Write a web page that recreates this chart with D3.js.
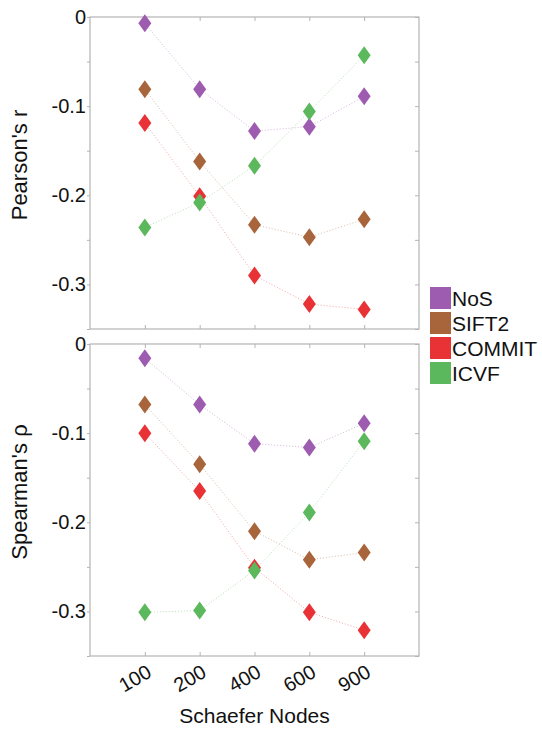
<!DOCTYPE html>
<html>
<head>
<meta charset="utf-8">
<script src="https://cdn.jsdelivr.net/npm/d3@7/dist/d3.min.js"></script>
<style>
  html, body { margin: 0; padding: 0; background: #fff; }
  svg { display: block; }
  svg text { font-family: "Liberation Sans", Arial, sans-serif; }
</style>
</head>
<body>
<svg id="chart" width="542" height="732"></svg>
<script>
// x categories (parcellation size)
const nodes = ['100', '200', '400', '600', '900'];
const methods = ['NoS', 'SIFT2', 'COMMIT', 'ICVF'];
const colors = ['#9e5cb0', '#a8653b', '#e83236', '#5cb85c'];

// Pearson's r, one array per method
const pearsonNoS = [-0.007, -0.081, -0.128, -0.123, -0.089];
const pearsonSIFT2 = [-0.081, -0.162, -0.233, -0.247, -0.227];
const pearsonCOMMIT = [-0.119, -0.201, -0.290, -0.322, -0.328];
const pearsonICVF = [-0.236, -0.208, -0.167, -0.106, -0.043];

// Spearman's rho
const spearmanNoS = [-0.016, -0.068, -0.112, -0.116, -0.089];
const spearmanSIFT2 = [-0.068, -0.135, -0.210, -0.242, -0.234];
const spearmanCOMMIT = [-0.100, -0.165, -0.251, -0.301, -0.321];
const spearmanICVF = [-0.301, -0.299, -0.254, -0.189, -0.109];

const yTicks = [0, -0.05, -0.1, -0.15, -0.2, -0.25, -0.3, -0.35];
const yMajor = [0, -0.1, -0.2, -0.3];

const svg = d3.select('#chart');
const left = 90, right = 419, ph = 312;
const frameColor = '#b4b4b4';

const x = d3.scalePoint().domain(nodes).range([left, right]).padding(1);

const fmt = d => d === 0 ? '0' : '-' + Math.abs(d).toFixed(1);
const isMajor = d => yMajor.some(m => Math.abs(m - d) < 1e-9);

function styleAxis(g) {
	g.attr('font-family', null).attr('font-size', null);
	g.select('.domain').remove();
	g.selectAll('.tick line').attr('stroke', frameColor);
	g.selectAll('.tick text')
		.attr('fill', '#111')
		.style('font-size', '20px');
}

function drawPanel(top, series, label, xLabels) {
	const y = d3.scaleLinear().domain([-0.35, 0]).range([top + ph, top]);
	const g = svg.append('g');

	/* FRAME */
	g.append('rect')
		.attr('x', left).attr('y', top)
		.attr('width', right - left).attr('height', ph)
		.attr('fill', 'none').attr('stroke', frameColor).attr('stroke-width', 1.2);

	/* Y AXES */
	g.append('g')
		.attr('transform', `translate(${left},0)`)
		.call(d3.axisLeft(y).tickValues(yTicks).tickSize(3).tickPadding(1)
			.tickFormat(d => isMajor(d) && d > -0.34 ? fmt(d) : ''))
		.call(styleAxis);
	g.append('g')
		.attr('transform', `translate(${right},0)`)
		.call(d3.axisRight(y).tickValues(yTicks).tickSize(-4).tickFormat(''))
		.call(styleAxis);

	/* X TICKS top and bottom, inward */
	g.append('g')
		.attr('transform', `translate(0,${top})`)
		.call(d3.axisTop(x).tickSize(-4).tickFormat(''))
		.call(styleAxis);
	g.append('g')
		.attr('transform', `translate(0,${top + ph})`)
		.call(d3.axisBottom(x).tickSize(-4).tickFormat(''))
		.call(styleAxis);

	if (xLabels) {
		g.selectAll('.xlab')
			.data(nodes)
			.enter()
			.append('text')
			.attr('class', 'xlab')
			.attr('transform', d => `translate(${x(d) + 8},${top + ph + 20}) rotate(-30)`)
			.attr('text-anchor', 'end')
			.style('font-size', '20px')
			.attr('fill', '#111')
			.text(d => d);
	}

	/* Y LABEL */
	g.append('text')
		.attr('transform', `translate(27,${top + ph / 2 - 8}) rotate(-90)`)
		.attr('text-anchor', 'middle')
		.style('font-size', '22px')
		.attr('fill', '#111')
		.text(label);

	/* LINES */
	const line = d3.line()
		.x((d, i) => x(nodes[i]))
		.y(d => y(d));
	series.forEach((vals, k) => {
		g.append('path')
			.datum(vals)
			.attr('d', line)
			.attr('fill', 'none')
			.attr('stroke', colors[k])
			.attr('stroke-opacity', 0.45)
			.attr('stroke-width', 1)
			.attr('stroke-dasharray', '1,2');
	});

	/* MARKERS - diamonds */
	series.forEach((vals, k) => {
		g.selectAll(null)
			.data(vals)
			.enter()
			.append('path')
			.attr('d', 'M0,-9L6.5,0L0,9L-6.5,0Z')
			.attr('transform', (d, i) => `translate(${x(nodes[i])},${y(d)})`)
			.attr('fill', colors[k]);
	});
}

drawPanel(17, [pearsonNoS, pearsonSIFT2, pearsonCOMMIT, pearsonICVF], "Pearson's r", false);
drawPanel(344, [spearmanNoS, spearmanSIFT2, spearmanCOMMIT, spearmanICVF], "Spearman's \u03c1", true);

/* X TITLE */
svg.append('text')
	.attr('x', (left + right) / 2)
	.attr('y', 723)
	.attr('text-anchor', 'middle')
	.style('font-size', '21px')
	.attr('fill', '#111')
	.text('Schaefer Nodes');

/* LEGEND */
const legend = svg.append('g').attr('transform', 'translate(430,287)');
const item = legend.selectAll('g')
	.data(methods)
	.enter()
	.append('g')
	.attr('transform', (d, i) => `translate(0,${i * 25})`);
item.append('rect')
	.attr('width', 21).attr('height', 22)
	.attr('fill', (d, i) => colors[i]);
item.append('text')
	.attr('x', 22).attr('y', 19)
	.style('font-size', '21px')
	.attr('fill', '#111')
	.text(d => d);
</script>
</body>
</html>
